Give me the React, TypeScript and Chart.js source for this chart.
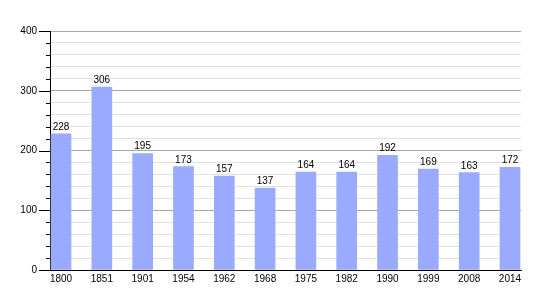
import React, { useEffect, useRef } from "react";
import { Chart, registerables } from "chart.js";

Chart.register(...registerables);

const years = ["1800", "1851", "1901", "1954", "1962", "1968", "1975", "1982", "1990", "1999", "2008", "2014"];
const population = [228, 306, 195, 173, 157, 137, 164, 164, 192, 169, 163, 172];
const yMax = 400;
const yStep = 20;
const yLabelStep = 100;

const FONT = "'Liberation Sans', Arial, sans-serif";

const valueLabels = {
  id: "valueLabels",
  afterDatasetsDraw(chart: any) {
    const ctx = chart.ctx;
    const meta = chart.getDatasetMeta(0);
    ctx.save();
    ctx.font = `10px ${FONT}`;
    ctx.fillStyle = "#000";
    ctx.textAlign = "center";
    ctx.textBaseline = "alphabetic";
    meta.data.forEach((bar: any, i: number) => {
      ctx.fillText(String(population[i]), bar.x, bar.y - 4);
    });
    ctx.restore();
  },
};

const yTickMarks = {
  id: "yTickMarks",
  afterDraw(chart: any) {
    const ctx = chart.ctx;
    const y = chart.scales.y;
    const left = chart.chartArea.left;
    ctx.save();
    ctx.strokeStyle = "#000";
    ctx.lineWidth = 1;
    y.ticks.forEach((t: any) => {
      const py = Math.round(y.getPixelForValue(t.value)) + 0.5;
      const len = t.value % yLabelStep === 0 ? 11 : 4;
      ctx.beginPath();
      ctx.moveTo(left - len, py);
      ctx.lineTo(left, py);
      ctx.stroke();
    });
    ctx.restore();
  },
};

export default function App() {
  const ref = useRef<HTMLCanvasElement>(null);
  useEffect(() => {
    if (!ref.current) return;
    const chart = new Chart(ref.current, {
      type: "bar",
      data: {
        datasets: [
          {
            data: population.map((v, i) => ({ x: i, y: v })),
            backgroundColor: "#99aaff",
            borderWidth: 0,
            barThickness: 20,
          },
        ],
      },
      options: {
        animation: false,
        responsive: false,
        maintainAspectRatio: false,
        events: [],
        layout: { padding: { top: 31, right: 29, left: 0, bottom: 0 } },
        plugins: { legend: { display: false }, tooltip: { enabled: false } },
        scales: {
          x: {
            type: "linear",
            offset: false,
            min: -0.27,
            max: 11.27,
            grid: { display: false, drawTicks: false, offset: false },
            border: { display: true, color: "#000", width: 1 },
            ticks: {
              stepSize: 1,
              includeBounds: false,
              autoSkip: false,
              maxRotation: 0,
              padding: 3,
              color: "#000",
              font: { family: FONT, size: 10 },
              callback: (v: any) => years[v as number] ?? "",
            },
            afterFit: (s: any) => {
              s.height = 30;
            },
          },
          y: {
            min: 0,
            max: yMax,
            grid: {
              drawTicks: false,
              color: (c: any) => (c.tick && c.tick.value % yLabelStep === 0 ? "#a8a8a8" : "#e2e2e2"),
              lineWidth: 1,
            },
            border: { display: true, color: "#000", width: 1 },
            ticks: {
              stepSize: yStep,
              autoSkip: false,
              padding: 13,
              color: "#000",
              font: { family: FONT, size: 10 },
              callback: (v: any) => ((v as number) % yLabelStep === 0 ? String(v) : ""),
            },
            afterFit: (s: any) => {
              s.width = 50;
            },
          },
        },
      },
      plugins: [valueLabels, yTickMarks],
    });
    return () => chart.destroy();
  }, []);
  return (
    <div style={{ position: "absolute", left: 0, top: 0, width: 550, height: 300, background: "#fff" }}>
      <canvas ref={ref} width={550} height={300} style={{ display: "block" }} />
    </div>
  );
}
